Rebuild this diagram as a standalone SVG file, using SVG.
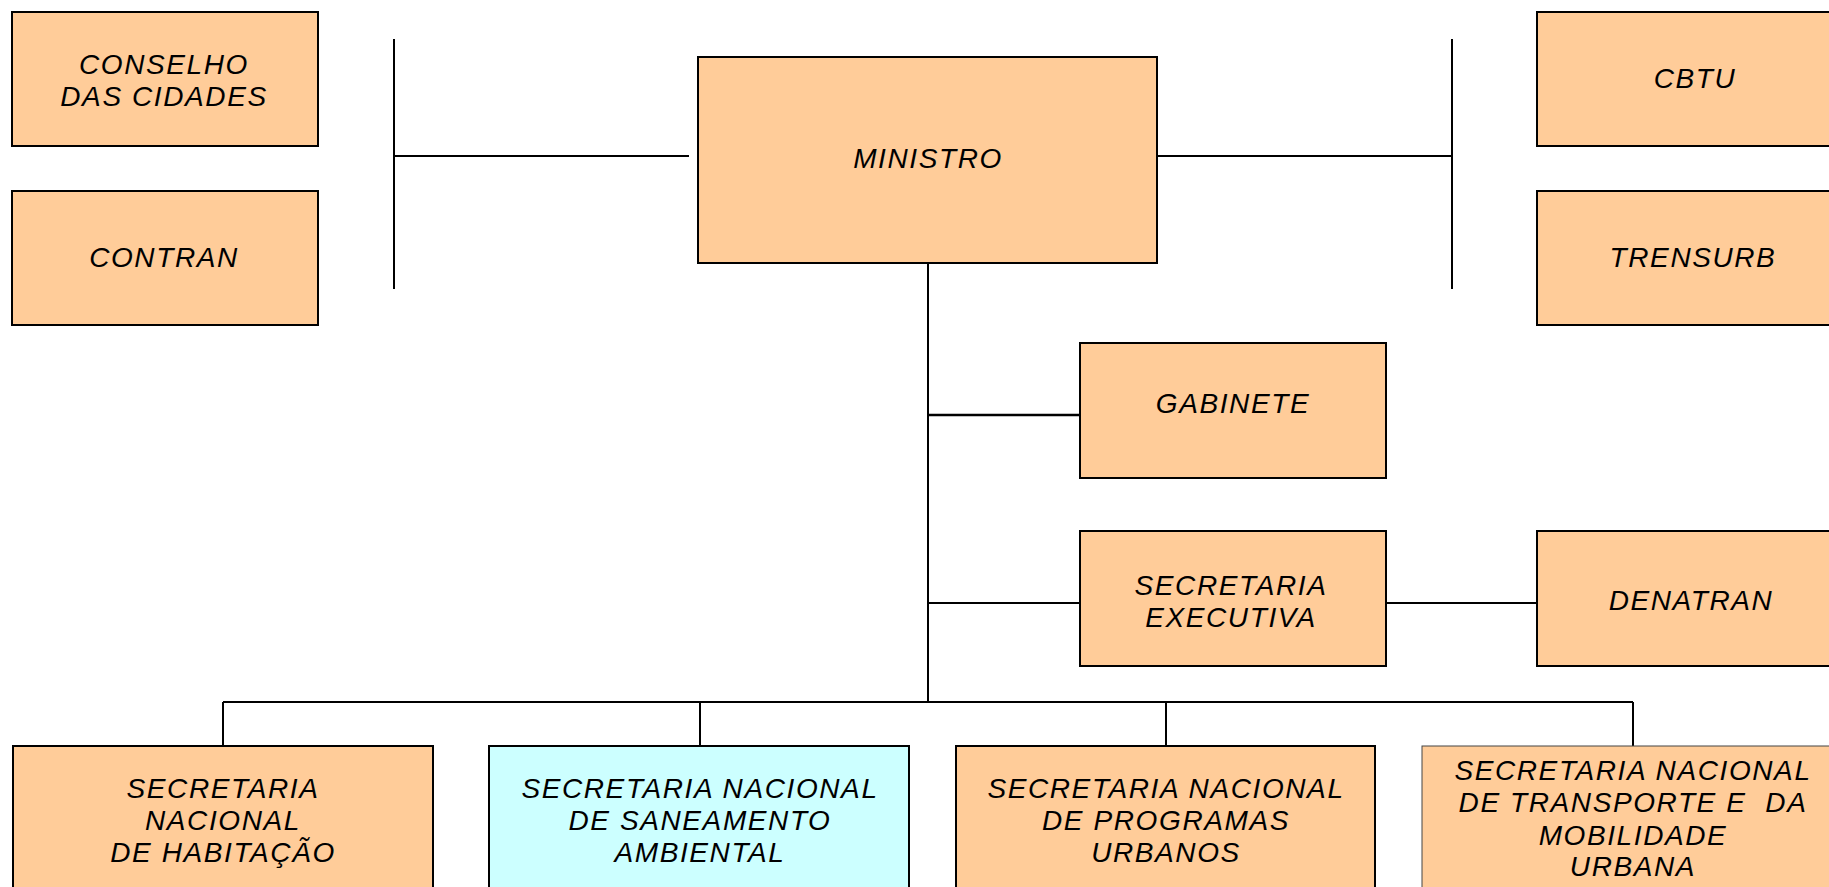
<svg xmlns="http://www.w3.org/2000/svg" width="1829" height="887" viewBox="0 0 1829 887">
<style>
.box{fill:#FFCC99;stroke:#000;stroke-width:2}
.cyan{fill:#CCFFFF;stroke:#000;stroke-width:2}
.thin{fill:#FFCC99;stroke:#444;stroke-width:1}
.lbl{font-family:"Liberation Sans",Arial,sans-serif;font-style:italic;font-size:28px;letter-spacing:1.6px;fill:#000;text-anchor:middle}
.ln{stroke:#000;stroke-width:2;fill:none}
</style>
<rect width="1829" height="887" fill="#fff"/>
<g id="connectors">
<line class="ln" x1="394" y1="39" x2="394" y2="289"/>
<line class="ln" x1="394" y1="156" x2="689" y2="156"/>
<line class="ln" x1="1452" y1="39" x2="1452" y2="289"/>
<line class="ln" x1="1157" y1="156" x2="1452" y2="156"/>
<line class="ln" x1="928" y1="263" x2="928" y2="702"/>
<line class="ln" x1="928" y1="415" x2="1080" y2="415" style="stroke-width:2.6"/>
<line class="ln" x1="928" y1="603" x2="1080" y2="603"/>
<line class="ln" x1="1386" y1="603" x2="1537" y2="603"/>
<line class="ln" x1="223" y1="702" x2="1633" y2="702"/>
<line class="ln" x1="223" y1="702" x2="223" y2="746"/>
<line class="ln" x1="700" y1="702" x2="700" y2="746"/>
<line class="ln" x1="1166" y1="702" x2="1166" y2="746"/>
<line class="ln" x1="1633" y1="702" x2="1633" y2="746"/>
</g>
<g id="conselho">
<rect class="box" x="12" y="12" width="306" height="134"/>
<text class="lbl" x="164" y="74">CONSELHO</text>
<text class="lbl" x="164" y="106">DAS CIDADES</text>
</g>
<g id="contran">
<rect class="box" x="12" y="191" width="306" height="134"/>
<text class="lbl" x="164" y="267">CONTRAN</text>
</g>
<g id="ministro">
<rect class="box" x="698" y="57" width="459" height="206"/>
<text class="lbl" x="928" y="168">MINISTRO</text>
</g>
<g id="cbtu">
<rect class="box" x="1537" y="12" width="316" height="134"/>
<text class="lbl" x="1695" y="88">CBTU</text>
</g>
<g id="trensurb">
<rect class="box" x="1537" y="191" width="316" height="134"/>
<text class="lbl" x="1693" y="267">TRENSURB</text>
</g>
<g id="gabinete">
<rect class="box" x="1080" y="343" width="306" height="135"/>
<text class="lbl" x="1233" y="413">GABINETE</text>
</g>
<g id="secretaria-executiva">
<rect class="box" x="1080" y="531" width="306" height="135"/>
<text class="lbl" x="1231" y="595">SECRETARIA</text>
<text class="lbl" x="1231" y="627">EXECUTIVA</text>
</g>
<g id="denatran">
<rect class="box" x="1537" y="531" width="316" height="135"/>
<text class="lbl" x="1691" y="610">DENATRAN</text>
</g>
<g id="habitacao">
<rect class="box" x="13" y="746" width="420" height="160"/>
<text class="lbl" x="223" y="798">SECRETARIA</text>
<text class="lbl" x="223" y="830">NACIONAL</text>
<text class="lbl" x="223" y="862">DE HABITAÇÃO</text>
</g>
<g id="saneamento">
<rect class="cyan" x="489" y="746" width="420" height="160"/>
<text class="lbl" x="700" y="798">SECRETARIA NACIONAL</text>
<text class="lbl" x="700" y="830">DE SANEAMENTO</text>
<text class="lbl" x="700" y="862">AMBIENTAL</text>
</g>
<g id="programas">
<rect class="box" x="956" y="746" width="419" height="160"/>
<text class="lbl" x="1166" y="798">SECRETARIA NACIONAL</text>
<text class="lbl" x="1166" y="830">DE PROGRAMAS</text>
<text class="lbl" x="1166" y="862">URBANOS</text>
</g>
<g id="transporte">
<rect class="thin" x="1422" y="746" width="422" height="160"/>
<text class="lbl" x="1633" y="780">SECRETARIA NACIONAL</text>
<text class="lbl" x="1633" y="812" xml:space="preserve">DE TRANSPORTE E  DA</text>
<text class="lbl" x="1633" y="845">MOBILIDADE</text>
<text class="lbl" x="1633" y="876">URBANA</text>
</g>
</svg>
